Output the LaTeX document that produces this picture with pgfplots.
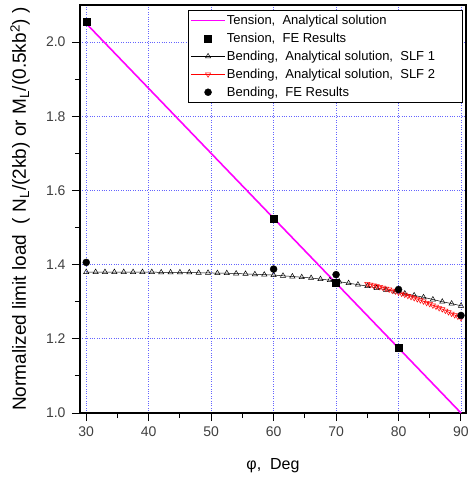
\documentclass[border=0pt]{standalone}
\usepackage{pgfplots}
\pgfplotsset{compat=1.18}
\usepackage{fontspec}
\setmainfont{Liberation Sans}
\definecolor{gridblue}{RGB}{100,100,255}
\definecolor{mag}{RGB}{255,0,255}
\begin{document}
\begin{tikzpicture}
\begin{axis}[
  at={(0pt,0pt)}, anchor=south west,
  scale only axis, width=386pt, height=408pt,
  xmin=29, xmax=90.8, ymin=1.0, ymax=2.1,
  xtick={30,40,50,60,70,80,90},
  ytick={1.0,1.2,1.4,1.6,1.8,2.0},
  minor xtick={35,45,55,65,75,85},
  minor ytick={1.1,1.3,1.5,1.7,1.9},
  yticklabel style={/pgf/number format/fixed,/pgf/number format/fixed zerofill,/pgf/number format/precision=1, xshift=-3pt},
  xticklabel style={yshift=-2pt},
  /pgf/number format/assume math mode=true,
  tick align=outside, xtick pos=left, ytick pos=left,
  major tick length=8pt, minor tick length=5pt,
  every tick/.style={black, line width=1pt},
  axis line style={line width=1.3pt},
  grid=major,
  major grid style={gridblue, dotted, line width=0.9pt},
  ticklabel style={font=\fontsize{14}{16}\selectfont, text=black!75},
  xlabel={φ,\ \ Deg},
  ylabel={Normalized limit load\ \ ( N\textsubscript{L}/(2kb) or M\textsubscript{L}/(0.5kb\textsuperscript{2}) )},
  xlabel style={font=\fontsize{16}{18}\selectfont, at={(axis description cs:0.5,-0.13)}, anchor=center},
  ylabel style={font=\fontsize{19}{21}\selectfont, at={(axis description cs:-0.155,0.5)}, anchor=center},
  legend style={at={(0.99,0.988)}, anchor=north east,
    font=\fontsize{13}{15}\selectfont, row sep=5pt, inner xsep=2pt, inner ysep=4pt,
    nodes={inner sep=1pt}},
  legend cell align=left,
  legend image code/.code={\draw[mark repeat=2,mark phase=2] plot coordinates {(0cm,0cm)(0.6cm,0cm)(1.2cm,0cm)};},
]
\addplot[mag, line width=1.6pt, mark=none,
  legend image post style={mag, line width=1.6pt},
  legend image code/.code={\draw[mag, line width=1.6pt] (0cm,0cm) -- (1.2cm,0cm);}] coordinates {
 (30,2.050) (40,1.875) (50,1.700) (60,1.525) (70,1.350) (80,1.175) (90,1.000)};
\addlegendentry{\makebox[232pt][l]{Tension,\ \ Analytical solution}}
\addplot[only marks, mark=square*, mark size=3.5pt, black] coordinates {
 (30,2.055) (60,1.524) (70,1.351) (80,1.177)};
\addlegendentry{Tension,\ \ FE Results}
\addplot[black, line width=0.5pt, mark=triangle, mark size=3pt, mark options={line width=0.5pt}] coordinates {
 (30,1.380) (31.5,1.380) (33,1.380) (34.5,1.380) (36,1.380) (37.5,1.380) (39,1.380)
 (40.5,1.380) (42,1.379) (43.5,1.379) (45,1.379) (46.5,1.379) (48,1.378) (49.5,1.378)
 (51,1.377) (52.5,1.377) (54,1.376) (55.5,1.375) (57,1.374) (58.5,1.373) (60,1.372)
 (61.5,1.370) (63,1.368) (64.5,1.366) (66,1.364) (67.5,1.361) (69,1.358) (70.5,1.354)
 (72,1.350) (73.5,1.346) (75,1.342) (76.5,1.337) (78,1.332) (79.5,1.327) (81,1.322)
 (82.5,1.317) (84,1.312) (85.5,1.306) (87,1.300) (88.5,1.295) (90,1.289)};
\addlegendentry{Bending,\ \ Analytical solution,\ \ SLF 1}
\addplot[red, line width=0.5pt, mark=triangle, mark size=3pt, mark options={rotate=180, line width=0.5pt}] coordinates {
 (75,1.348) (75.5,1.346) (76,1.344) (76.5,1.342) (77,1.340) (77.5,1.338) (78,1.335)
 (78.5,1.333) (79,1.330) (79.5,1.328) (80,1.325) (80.5,1.322) (81,1.319) (81.5,1.316)
 (82,1.313) (82.5,1.310) (83,1.307) (83.5,1.304) (84,1.301) (84.5,1.297) (85,1.294)
 (85.5,1.290) (86,1.287) (86.5,1.283) (87,1.280) (87.5,1.276) (88,1.272) (88.5,1.268)
 (89,1.264) (89.5,1.260) (90,1.256)};
\addlegendentry{Bending,\ \ Analytical solution,\ \ SLF 2}
\addplot[only marks, mark=*, mark size=3.5pt, black] coordinates {
 (30,1.406) (60,1.388) (70,1.373) (80,1.333) (90,1.263)};
\addlegendentry{Bending,\ \ FE Results}
\end{axis}
\path (-80pt,-67pt) rectangle (390pt,413pt);
\end{tikzpicture}
\end{document}
